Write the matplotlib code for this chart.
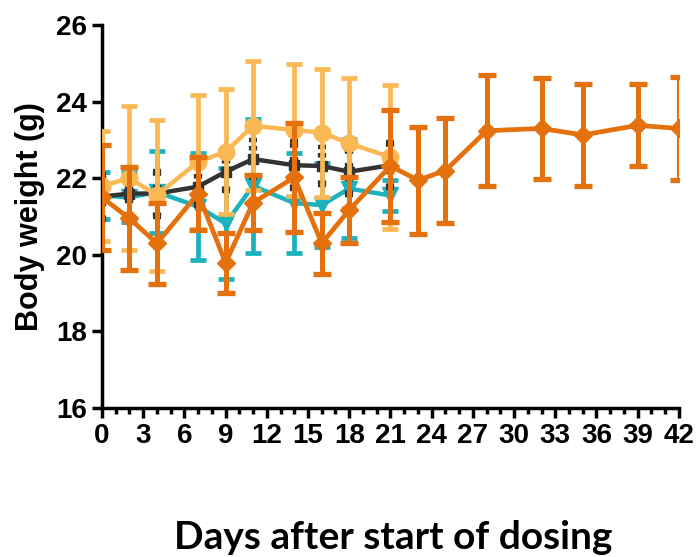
import numpy as np
import matplotlib.pyplot as plt
from matplotlib.ticker import MultipleLocator

# days measured
days = [0, 2, 4, 7, 9, 11, 14, 16, 18, 21]
days_long = [0, 2, 4, 7, 9, 11, 14, 16, 18, 21, 23, 25, 28, 32, 35, 39, 42]

# group means and SD (g)
dark_mean = [21.52, 21.6, 21.6, 21.78, 22.17, 22.5, 22.34, 22.32, 22.17, 22.34]
dark_sd = [0.6, 0.6, 0.6, 0.5, 0.5, 0.5, 0.62, 0.5, 0.62, 0.6]

teal_mean = [21.55, 21.5, 21.64, 21.26, 20.82, 21.8, 21.35, 21.3, 21.73, 21.55]
teal_sd = [0.62, 0.65, 1.08, 1.4, 1.45, 1.76, 1.3, 1.1, 1.3, 0.4]

light_mean = [21.8, 22.0, 21.56, 22.43, 22.69, 23.37, 23.26, 23.19, 22.91, 22.55]
light_sd = [1.44, 1.88, 1.97, 1.75, 1.63, 1.68, 1.72, 1.67, 1.7, 1.88]

orange_mean = [21.5, 20.95, 20.3, 21.6, 19.79, 21.36, 22.02, 20.3, 21.17, 22.32,
               21.95, 22.2, 23.24, 23.3, 23.13, 23.38, 23.3]
orange_sd = [1.37, 1.35, 1.05, 0.96, 0.78, 0.72, 1.42, 0.8, 0.86, 1.46,
             1.4, 1.37, 1.45, 1.33, 1.33, 1.07, 1.35]

c_dark = '#333333'
c_teal = '#1bb2bd'
c_light = '#f9b853'
c_orange = '#e4700e'

plt.rcParams['font.family'] = ['Liberation Sans', 'DejaVu Sans']
plt.rcParams['font.weight'] = 'bold'

fig = plt.figure(figsize=(6.97, 5.57), dpi=100)
ax = fig.add_axes([0.1463, 0.2675, 0.8277, 0.6875])

# teal group
ax.errorbar(days, teal_mean, yerr=teal_sd, color=c_teal, lw=3.2, marker='v', ms=12,
            elinewidth=3.4, capsize=6, capthick=3.4, zorder=2)

# dark group, dashed error bars
eb = ax.errorbar(days, dark_mean, yerr=dark_sd, color=c_dark, lw=3.2, marker='s', ms=7,
                 elinewidth=6, capsize=3, capthick=3.2, zorder=3)
eb[2][0].set_linestyle((0, (0.55, 1.1)))

# light orange group
ax.errorbar(days, light_mean, yerr=light_sd, color=c_light, lw=3.2, marker='o', ms=12,
            elinewidth=3.4, capsize=6, capthick=3.4, zorder=4)

# dark orange group (longer follow-up)
ax.errorbar(days_long, orange_mean, yerr=orange_sd, color=c_orange, lw=3.4, marker='D', ms=9.5,
            elinewidth=3.6, capsize=6.2, capthick=3.8, zorder=5)

ax.set_xlim(0, 42)
ax.set_ylim(16, 26)
ax.xaxis.set_major_locator(MultipleLocator(3))
ax.xaxis.set_minor_locator(MultipleLocator(1))
ax.yaxis.set_major_locator(MultipleLocator(2))

for s in ['top', 'right']:
    ax.spines[s].set_visible(False)
for s in ['left', 'bottom']:
    ax.spines[s].set_linewidth(2.5)
    ax.spines[s].set_capstyle('projecting')

ax.tick_params(axis='both', which='major', length=7, width=2.5, labelsize=20, pad=4)
ax.tick_params(axis='x', which='minor', length=4, width=2.5)
for lbl in ax.get_xticklabels() + ax.get_yticklabels():
    lbl.set_fontweight('bold')

ax.set_ylabel('Body weight (g)', fontsize=22, fontweight='bold', labelpad=8)
fig.text(0.564, 0.014, 'Days after start of dosing', ha='center', va='baseline',
         fontsize=28, fontweight='bold', family=['Lato', 'DejaVu Sans'])

fig.savefig('out.png', dpi=100)
